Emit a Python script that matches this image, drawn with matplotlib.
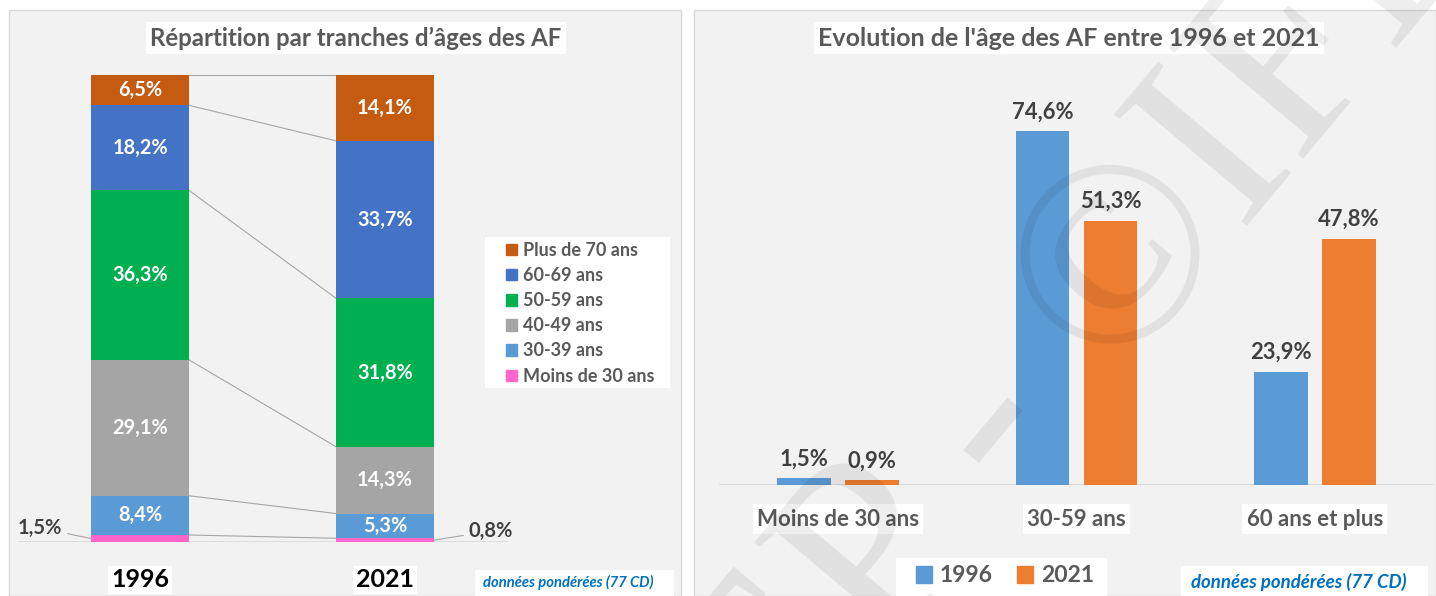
import numpy as np
import matplotlib
matplotlib.use("Agg")
import matplotlib.pyplot as plt
from matplotlib.patches import Patch, Rectangle
from matplotlib.transforms import Bbox, TransformedBbox

plt.rcParams['font.family'] = ['Lato', 'DejaVu Sans']

# left chart: share of each age band, 1996 vs 2021
years = ['1996', '2021']
age_bands = ['Moins de 30 ans', '30-39 ans', '40-49 ans', '50-59 ans', '60-69 ans', 'Plus de 70 ans']
share_1996 = [1.5, 8.4, 29.1, 36.3, 18.2, 6.5]
share_2021 = [0.8, 5.3, 14.3, 31.8, 33.7, 14.1]
band_colors = ['#ff66cc', '#5b9bd5', '#a5a5a5', '#00b050', '#4472c4', '#c55a11']

# right chart: three broad groups
groups = ['Moins de 30 ans', '30-59 ans', '60 ans et plus']
grp_1996 = [1.5, 74.6, 23.9]
grp_2021 = [0.9, 51.3, 47.8]

W, H = 1436, 596
fig = plt.figure(figsize=(W / 100, H / 100), dpi=100)
fig.patch.set_facecolor('white')


def fx(x):
    return x / W


def fy(y):
    return 1 - y / H


def fmt(v):
    return f"{v:.1f}%".replace('.', ',')


def white_box(x0, y0, x1, y1):
    fig.patches.append(Rectangle((fx(x0), fy(y1)), fx(x1) - fx(x0), fy(y0) - fy(y1),
                                 transform=fig.transFigure, facecolor='white',
                                 edgecolor='none', zorder=-1))


# panel backgrounds (behind the axes)
fig.patches.append(Rectangle((fx(9), 0), fx(681) - fx(9), fy(10), transform=fig.transFigure,
                             facecolor='#f2f2f2', edgecolor='#d9d9d9', lw=1, zorder=-2))
fig.patches.append(Rectangle((fx(694), 0), fx(1436) - fx(694), fy(10), transform=fig.transFigure,
                             facecolor='#f2f2f2', edgecolor='#d9d9d9', lw=1, zorder=-2))

# ---------------- left: stacked bars ----------------
ax1 = fig.add_axes([fx(17.5), fy(542), (507.5 - 17.5) / W, (542 - 75) / H])
ax1.set_facecolor('none')
ax1.set_xlim(-0.5, 1.5)
ax1.set_ylim(0, 100)
for s in ax1.spines.values():
    s.set_visible(False)
ax1.set_yticks([])

x = np.arange(len(years))
bw = 0.4
bottom = np.zeros(2)
for i, band in enumerate(age_bands):
    vals = np.array([share_1996[i], share_2021[i]])
    ax1.bar(x, vals, bw, bottom=bottom, color=band_colors[i], label=band, zorder=2)
    if i > 0:
        for xi, v, b in zip(x, vals, bottom):
            ax1.text(xi, b + v / 2, fmt(v), ha='center', va='center', color='white',
                     fontsize=14.3, fontweight='bold', zorder=3)
    bottom = bottom + vals

# series lines between the two stacks
cum96 = np.cumsum(share_1996)
cum21 = np.cumsum(share_2021)
for a, b in zip(cum96, cum21):
    ax1.plot([bw / 2, 1 - bw / 2], [a, b], color='#a6a6a6', lw=0.8, zorder=1)
ax1.axhline(0, color='#d9d9d9', lw=1.2, zorder=1)

# small pink slices labelled outside
ax1.annotate(fmt(share_1996[0]), xy=(-bw / 2, share_1996[0] / 2), xytext=(fx(40), fy(528)),
             textcoords='figure fraction', ha='center', va='center', fontsize=14.5,
             fontweight='bold', color='#404040',
             arrowprops=dict(arrowstyle='-', color='#a6a6a6', lw=0.8, shrinkA=2, shrinkB=0))
ax1.annotate(fmt(share_2021[0]), xy=(1 + bw / 2, share_2021[0] / 2), xytext=(fx(491), fy(531)),
             textcoords='figure fraction', ha='center', va='center', fontsize=14.5,
             fontweight='bold', color='#404040',
             arrowprops=dict(arrowstyle='-', color='#a6a6a6', lw=0.8, shrinkA=2, shrinkB=0))

ax1.set_xticks(x, years)
ax1.tick_params(axis='x', length=0, pad=19, labelsize=18)
for lab in ax1.get_xticklabels():
    lab.set_fontweight('bold')
    lab.set_color('black')
    lab.set_bbox(dict(facecolor='white', edgecolor='none', pad=2))

white_box(485, 237, 670, 388)
handles = [Patch(color=c, label=l) for c, l in zip(band_colors, age_bands)][::-1]
leg = ax1.legend(handles=handles, loc='upper left', bbox_to_anchor=(fx(506), fy(242)),
                 bbox_transform=fig.transFigure, frameon=False, fontsize=13,
                 handlelength=0.6, handleheight=0.6, handletextpad=0.35,
                 labelspacing=0.45, borderpad=0, borderaxespad=0)
for t in leg.get_texts():
    t.set_color('#595959')
    t.set_fontweight('bold')

fig.text(fx(356), fy(38), 'Répartition par tranches d’âges des AF', ha='center', va='center',
         fontsize=17.3, fontweight='bold', color='#595959',
         bbox=dict(facecolor='white', edgecolor='none', pad=3))

white_box(475, 570, 674, 596)
fig.text(fx(483), fy(582), 'données pondérées (77 CD)', ha='left', va='center', fontsize=10.6,
         style='italic', fontweight='bold', color='#0070c0')

# ---------------- right: grouped bars ----------------
ax2 = fig.add_axes([fx(719), fy(485), 715 / W, (485 - 75) / H])
ax2.set_facecolor('none')
ax2.set_xlim(-0.5, 2.5)
ax2.set_ylim(0, 410 / 4.745)
# the source plots the 2021 series on its own (slightly larger) scale
ax2b = ax2.twinx()
ax2b.set_ylim(0, 410 / 5.155)
for a in (ax2, ax2b):
    for s in a.spines.values():
        s.set_visible(False)
    a.set_yticks([])

xg = np.arange(len(groups))
off, gw = 0.1426, 0.2264
ax2.bar(xg - off, grp_1996, gw, color='#5b9bd5', zorder=2)
ax2b.bar(xg + off, grp_2021, gw, color='#ed7d31', zorder=2)
for a, xs, vals in ((ax2, xg - off, grp_1996), (ax2b, xg + off, grp_2021)):
    for xi, v in zip(xs, vals):
        a.annotate(fmt(v), xy=(xi, v), xytext=(0, 19), textcoords='offset pixels',
                   ha='center', va='center', fontsize=15.8, fontweight='bold', color='#404040')
ax2.axhline(0, color='#d9d9d9', lw=1.5, zorder=1)

ax2.set_xticks(xg, groups)
ax2.tick_params(axis='x', length=0, pad=17, labelsize=16, labelcolor='#595959')
for lab in ax2.get_xticklabels():
    lab.set_fontweight('bold')
    lab.set_bbox(dict(facecolor='white', edgecolor='none', pad=3))

fig.text(fx(1069), fy(38), "Evolution de l'âge des AF entre 1996 et 2021", ha='center', va='center',
         fontsize=18, fontweight='bold', color='#595959',
         bbox=dict(facecolor='white', edgecolor='none', pad=3))

white_box(896, 558, 1107, 596)
leg2 = fig.legend(handles=[Patch(color='#5b9bd5', label='1996'), Patch(color='#ed7d31', label='2021')],
                  ncol=2, loc='center', bbox_to_anchor=(fx(1005), fy(576)), frameon=False,
                  fontsize=16.5, handlelength=0.68, handleheight=0.75, handletextpad=0.35,
                  columnspacing=1.05, borderpad=0)
for t in leg2.get_texts():
    t.set_color('#595959')
    t.set_fontweight('bold')

white_box(1181, 566, 1428, 596)
fig.text(fx(1191), fy(582), 'données pondérées (77 CD)', ha='left', va='center', fontsize=13.4,
         style='italic', fontweight='bold', color='#0070c0')

# faint diagonal watermark over the right panel only
wm = fig.text(fx(1089), fy(316), 'EP - ©IFE', ha='center', va='center', rotation=50,
              rotation_mode='anchor', fontsize=190, family=['Liberation Serif', 'DejaVu Serif'],
              color='black', alpha=0.07, zorder=10)
wm.set_clip_box(TransformedBbox(Bbox([[fx(694), 0], [1, 1]]), fig.transFigure))
wm.set_clip_on(True)

fig.savefig('out.png', dpi=100)
